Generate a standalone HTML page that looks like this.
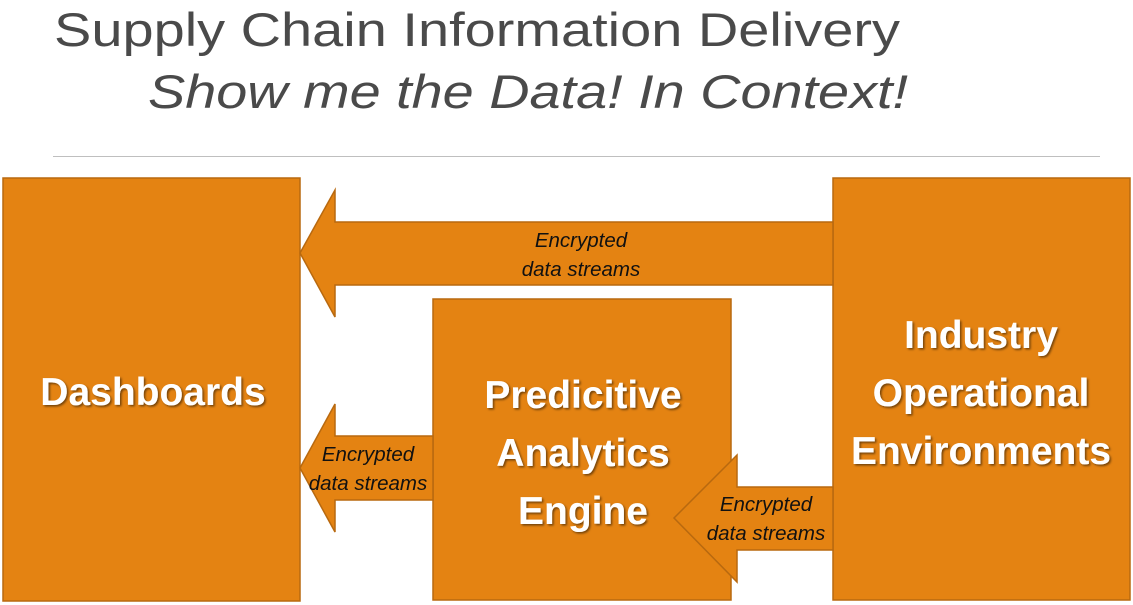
<!DOCTYPE html>
<html><head><meta charset="utf-8"><style>
html,body{margin:0;padding:0;background:#fff;width:1133px;height:605px;overflow:hidden}
svg{display:block}
.t{font-family:"Liberation Sans",sans-serif;fill:#4a4a4a}
.b{font-family:"Liberation Sans",sans-serif;font-weight:bold;fill:#fff;font-size:39px;text-anchor:middle}
.s{font-family:"Liberation Sans",sans-serif;font-style:italic;fill:#111;font-size:20.5px;text-anchor:middle}
</style></head><body>
<svg width="1133" height="605" viewBox="0 0 1133 605">
<defs><filter id="sh"><feDropShadow dx="1.5" dy="1.5" stdDeviation="1" flood-color="#000" flood-opacity="0.5"/></filter></defs>
<text class="t" x="54" y="46" font-size="47" font-weight="300" textLength="846" lengthAdjust="spacingAndGlyphs">Supply Chain Information Delivery</text>
<text class="t" x="148" y="108" font-size="47" font-style="italic" textLength="760" lengthAdjust="spacingAndGlyphs">Show me the Data! In Context!</text>
<line x1="53" y1="156.5" x2="1100" y2="156.5" stroke="#bfbfbf" stroke-width="1"/>
<g fill="#E48312" stroke="#B8690F" stroke-width="1.5">
<rect x="3" y="178" width="297" height="423"/>
<rect x="833" y="178" width="297" height="422"/>
<rect x="433" y="299" width="298" height="301"/>
<polygon points="833,222 335,222 335,190 300,253 335,317 335,285 833,285"/>
<polygon points="433,436 335,436 335,404 300,468 335,532 335,500 433,500"/>
<polygon points="833,487 737,487 737,455 674,518 737,582 737,550 833,550"/>
</g>
<g filter="url(#sh)">
<text class="b" x="153" y="405">Dashboards</text>
<text class="b" x="583" y="408">Predicitive</text>
<text class="b" x="583" y="466">Analytics</text>
<text class="b" x="583" y="524">Engine</text>
<text class="b" x="981" y="348">Industry</text>
<text class="b" x="981" y="406">Operational</text>
<text class="b" x="981" y="464">Environments</text>
</g>
<text class="s" x="581" y="247">Encrypted</text>
<text class="s" x="581" y="276">data streams</text>
<text class="s" x="368" y="461">Encrypted</text>
<text class="s" x="368" y="490">data streams</text>
<text class="s" x="766" y="511">Encrypted</text>
<text class="s" x="766" y="540">data streams</text>
</svg>
</body></html>
